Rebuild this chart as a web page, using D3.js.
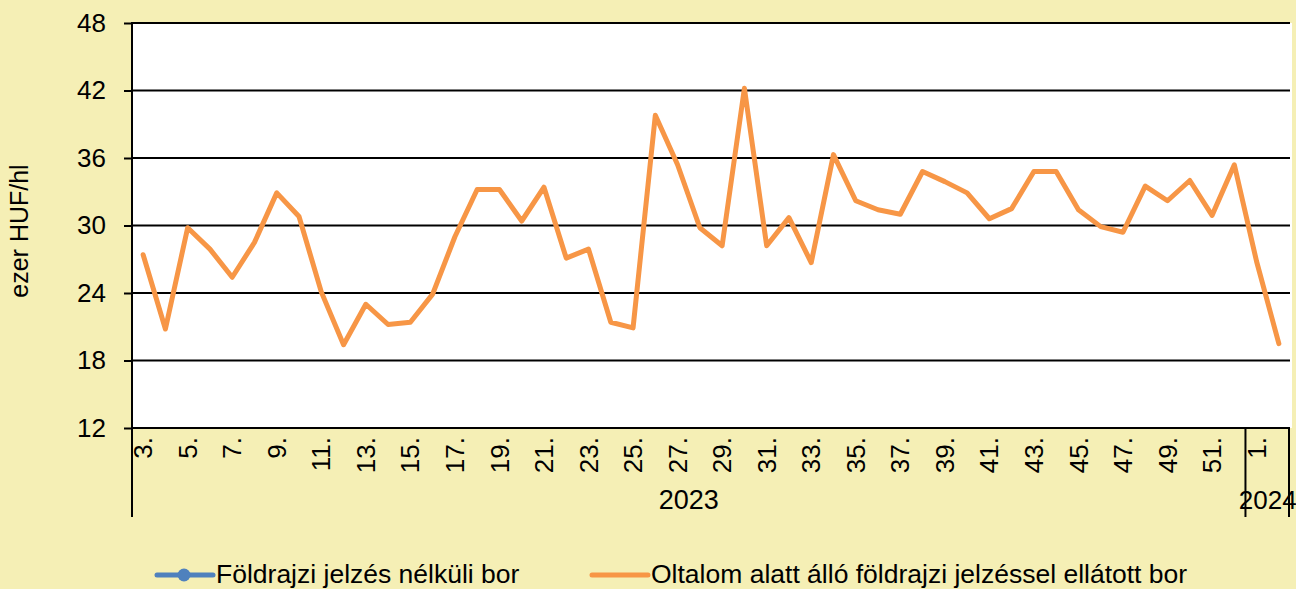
<!DOCTYPE html>
<html>
<head>
<meta charset="utf-8">
<script src="https://cdn.jsdelivr.net/npm/d3@7"></script>
<style>
  html, body { margin: 0; padding: 0; background: #f5efb5; }
  svg { display: block; font-family: "Liberation Sans", Arial, sans-serif; }
</style>
</head>
<body>
<div id="wrapper"></div>
<script>
// weeks: 2023 week 3 .. 52, then 2024 week 1 .. 2
const weeks2023 = d3.range(3, 53);
const weeks2024 = [1, 2];
const yTicks = [12, 18, 24, 30, 36, 42, 48];

// Oltalom alatt álló földrajzi jelzéssel ellátott bor (ezer HUF/hl)
const pdoWine = [
  27.4, 20.8, 29.8, 27.9, 25.4, 28.5, 32.9, 30.8, 24.1, 19.4,
  23.0, 21.2, 21.4, 23.9, 29.0, 33.2, 33.2, 30.4, 33.4, 27.1,
  27.9, 21.4, 20.9, 39.8, 35.4, 29.8, 28.2, 42.2, 28.2, 30.7,
  26.7, 36.3, 32.2, 31.4, 31.0, 34.8, 33.9, 32.9, 30.6, 31.5,
  34.8, 34.8, 31.4, 29.9, 29.4, 33.5, 32.2, 34.0, 30.9, 35.4,
  26.8, 19.5
];
// Földrajzi jelzés nélküli bor – no values shown in this period
const plainWine = [];

const seriesNames = [
  "Földrajzi jelzés nélküli bor",
  "Oltalom alatt álló földrajzi jelzéssel ellátott bor"
];
const colors = ["#4f81bd", "#f79646"];

const width = 1296;
const height = 589;
const plot = { left: 132, right: 1290, top: 23, bottom: 428 };

const categories = weeks2023.map(w => "2023-" + w).concat(weeks2024.map(w => "2024-" + w));
const labelOf = c => c.split("-")[1] + ".";

const svg = d3.select("#wrapper").append("svg")
  .attr("width", width)
  .attr("height", height);

svg.append("rect")
  .attr("width", width).attr("height", height)
  .attr("fill", "#f5efb5");

const x = d3.scaleBand()
  .domain(categories)
  .range([plot.left, plot.right]);

const y = d3.scaleLinear()
  .domain([12, 48])
  .range([plot.bottom, plot.top]);

// plot area
svg.append("rect")
  .attr("x", plot.left).attr("y", plot.top)
  .attr("width", plot.right - plot.left + 2)
  .attr("height", plot.bottom - plot.top)
  .attr("fill", "#fff");

// y ticks
const yAxis = d3.axisLeft(y)
  .tickValues(yTicks)
  .tickSize(8)
  .tickPadding(18);

const yG = svg.append("g")
  .attr("transform", `translate(${plot.left},0)`)
  .call(yAxis);
yG.select(".domain").remove();
yG.selectAll(".tick line").attr("stroke", "#000").attr("stroke-width", 2);
yG.selectAll(".tick text")
  .attr("font-size", 26)
  .attr("font-family", "Liberation Sans, Arial, sans-serif")
  .attr("fill", "#000");

// grid lines
svg.append("g")
  .selectAll("line")
  .data(yTicks)
  .join("line")
  .attr("x1", plot.left)
  .attr("x2", plot.right)
  .attr("y1", d => y(d))
  .attr("y2", d => y(d))
  .attr("stroke", "#000")
  .attr("stroke-width", 2);

// left axis line (runs down through the category area)
const axisBottom = 517;
svg.append("line")
  .attr("x1", plot.left).attr("x2", plot.left)
  .attr("y1", plot.top - 1).attr("y2", axisBottom)
  .attr("stroke", "#000").attr("stroke-width", 2);

// group dividers
const groupEdges = [x("2024-1"), x("2024-2") + x.bandwidth() - 1];
svg.append("g")
  .selectAll("line")
  .data(groupEdges)
  .join("line")
  .attr("x1", d => d).attr("x2", d => d)
  .attr("y1", plot.bottom).attr("y2", axisBottom)
  .attr("stroke", "#000").attr("stroke-width", 2);

// week labels, every second
svg.append("g")
  .selectAll("text")
  .data(categories.filter((c, i) => i % 2 === 0))
  .join("text")
  .attr("transform", d => `translate(${x(d) + x.bandwidth() / 2},437) rotate(-90)`)
  .attr("text-anchor", "end")
  .attr("dy", "0.35em")
  .attr("font-size", 26)
  .text(labelOf);

// year labels
const years = [
  { label: "2023", from: categories[0], to: "2023-52", size: 27 },
  { label: "2024", from: "2024-1", to: "2024-2", size: 26 }
];
svg.append("g")
  .selectAll("text")
  .data(years)
  .join("text")
  .attr("x", d => (x(d.from) + x(d.to) + x.bandwidth()) / 2)
  .attr("y", 509)
  .attr("text-anchor", "middle")
  .attr("font-size", d => d.size)
  .text(d => d.label);

// y title
svg.append("text")
  .attr("transform", "translate(28,231) rotate(-90)")
  .attr("text-anchor", "middle")
  .attr("font-size", 25)
  .text("ezer HUF/hl");

// lines
const line = d3.line()
  .defined(d => d.v != null)
  .x(d => x(d.c) + x.bandwidth() / 2)
  .y(d => y(d.v));

[plainWine, pdoWine].forEach((vals, i) => {
  svg.append("path")
    .datum(vals.map((v, j) => ({ c: categories[j], v })))
    .attr("fill", "none")
    .attr("stroke", colors[i])
    .attr("stroke-width", 5)
    .attr("stroke-linejoin", "round")
    .attr("stroke-linecap", "round")
    .attr("d", line);
});

// legend
const legendItems = [
  { name: seriesNames[0], color: colors[0], x: 157, marker: true },
  { name: seriesNames[1], color: colors[1], x: 592, marker: false }
];
const lg = svg.append("g").selectAll("g")
  .data(legendItems)
  .join("g")
  .attr("transform", d => `translate(${d.x},575)`);
lg.append("line")
  .attr("x1", 0).attr("x2", 56)
  .attr("stroke", d => d.color)
  .attr("stroke-width", 5)
  .attr("stroke-linecap", "round");
lg.filter(d => d.marker).append("circle")
  .attr("cx", 27).attr("r", 6.5)
  .attr("fill", d => d.color);
lg.append("text")
  .attr("x", 59)
  .attr("y", 8)
  .attr("font-size", 26.5)
  .text(d => d.name);
</script>
</body>
</html>
